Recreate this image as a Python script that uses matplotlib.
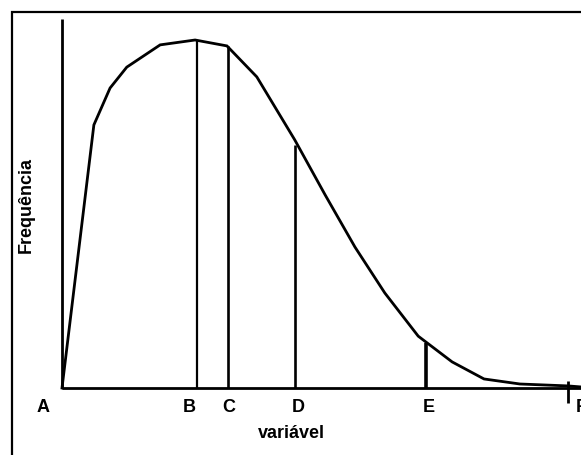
import matplotlib.pyplot as plt
from matplotlib.patches import Rectangle

plt.rcParams['font.family'] = ['Liberation Sans', 'DejaVu Sans']

# curva de frequência (variável 0..100, frequência 0..100)
variavel = [0, 6.3, 9.5, 12.8, 19.4, 26.3, 32.6, 38.5, 46.0, 52.0, 57.9,
            63.8, 70.4, 77.1, 83.4, 90.5, 100, 102.6]
frequencia = [0, 75.6, 86.2, 92.2, 98.6, 100, 98.3, 89.4, 71.3, 55.5, 40.5,
              27.3, 14.9, 7.5, 2.6, 1.15, 0.6, 0.3]

# linhas verticais B, C, D, E
linhas_x = [26.7, 32.8, 46.0, 71.9]
linhas_y = [100, 98.3, 69.8, 12.9]
linhas_lw = [1.6, 1.9, 1.9, 2.6]

# rótulos do eixo x
rotulos = ['A', 'B', 'C', 'D', 'E', 'F']
rotulos_px = [43.5, 189, 228.5, 298.5, 429, 581]

W, H = 581, 455
fig = plt.figure(figsize=(W / 100, H / 100), dpi=100)
ax = fig.add_axes([0, 0, 1, 1])
ax.set_xlim(-62 / 5.06, (W - 62) / 5.06)
ax.set_ylim((388 - H) / 3.48, 388 / 3.48)
ax.axis('off')

# eixos
ax.plot([0, 0], [0, (388 - 19) / 3.48], color='black', lw=2.0,
        solid_capstyle='butt')
ax.plot([0, 110], [0, 0], color='black', lw=2.0, solid_capstyle='butt')

ax.plot(variavel, frequencia, color='black', lw=2.0, solid_joinstyle='miter')

for x, y, lw in zip(linhas_x, linhas_y, linhas_lw):
    ax.plot([x, x], [0, y], color='black', lw=lw, solid_capstyle='butt')

# marca em F
ax.plot([100, 100], [(388 - 381) / 3.48, (388 - 403) / 3.48], color='black',
        lw=2.0, solid_capstyle='butt')

for lab, px in zip(rotulos, rotulos_px):
    fig.text(px / W, 1 - 412 / H, lab, ha='center', va='baseline',
             fontsize=13, fontweight='bold')

fig.text(291 / W, 1 - 438 / H, 'variável', ha='center', va='baseline',
         fontsize=13, fontweight='bold')
fig.text(26 / W, 1 - 205 / H, 'Frequência', ha='center', va='center',
         rotation=90, fontsize=13, fontweight='bold')

# moldura
fig.add_artist(Rectangle((12 / W, -0.1), 1.1, 1 - 12 / H + 0.1,
                         transform=fig.transFigure, fill=False,
                         edgecolor='black', lw=1.6))

fig.savefig('out.png', dpi=100)
